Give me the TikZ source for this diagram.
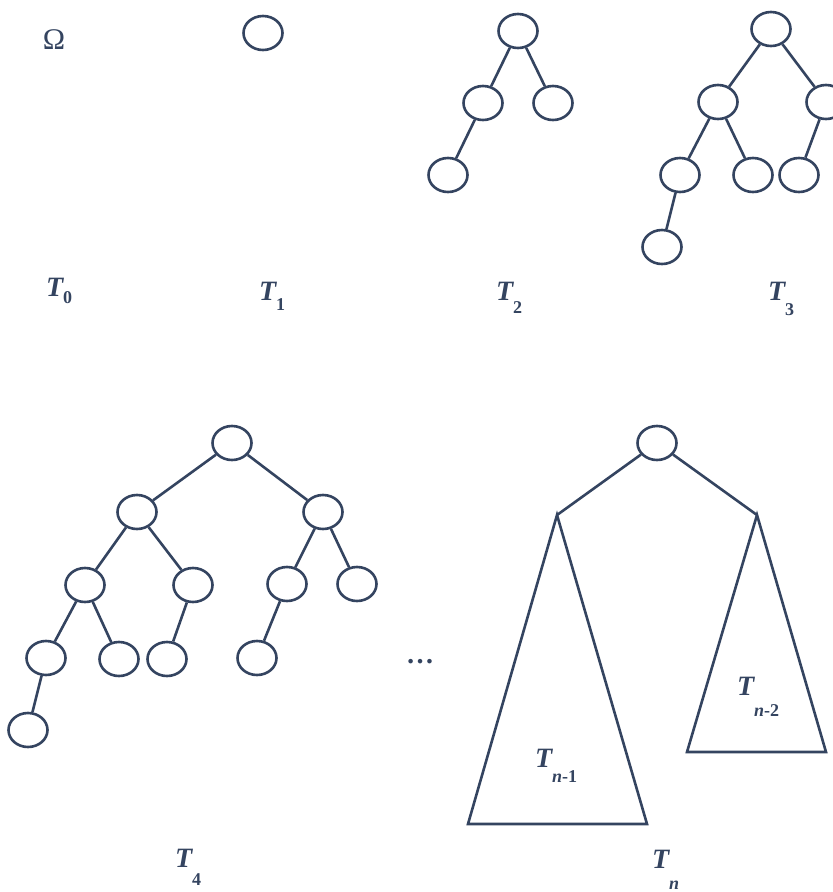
\documentclass[tikz,border=0pt]{standalone}
\usepackage{fontspec}
\setmainfont{Liberation Serif}
\usetikzlibrary{shapes.geometric}
\definecolor{ink}{RGB}{52,68,96}
\newcommand{\Tsb}[2]{\textbf{\textit{T}}\kern-1pt\raisebox{-#2pt}{\fontsize{18}{18}\selectfont\bfseries #1}}
\begin{document}
\begin{tikzpicture}[x=1pt,y=-1pt,
  nd/.style={ellipse,draw=ink,line width=2.6pt,minimum width=39pt,minimum height=34pt,inner sep=0pt},
  ed/.style={draw=ink,line width=2.6pt},
  lbl/.style={text=ink,font=\fontsize{28}{32}\selectfont,inner sep=0pt,anchor=base west}]
\clip (0,0) rectangle (833,892);
\fill[white] (0,0) rectangle (833,892);
% T0
\node[text=ink,font=\fontsize{30}{32}\selectfont,inner sep=0pt] (om) at (54,40) {Ω};
\node[lbl] (l0) at (46,296) {\Tsb{0}{7}};
% T1
\node[nd] (a) at (263,33) {};
\node[lbl] (l1) at (259,300) {\Tsb{1}{10}};
% T2
\node[nd] (b) at (518,31) {};
\node[nd] (bl) at (483,103) {};
\node[nd] (br) at (553,103) {};
\node[nd] (bll) at (448,175) {};
\draw[ed] (b) -- (bl) (b) -- (br) (bl) -- (bll);
\node[lbl] (l2) at (496,300) {\Tsb{2}{13}};
% T3
\node[nd] (c) at (771,29) {};
\node[nd] (cl) at (718,102) {};
\node[nd] (cr) at (826,102) {};
\node[nd] (cll) at (680,175) {};
\node[nd] (clr) at (753,175) {};
\node[nd] (crl) at (799,175) {};
\node[nd] (clll) at (662,247) {};
\draw[ed] (c) -- (cl) (c) -- (cr) (cl) -- (cll) (cl) -- (clr) (cr) -- (crl) (cll) -- (clll);
\node[lbl] (l3) at (768,300) {\Tsb{3}{15}};
% T4
\node[nd] (d) at (232,443) {};
\node[nd] (dl) at (137,512) {};
\node[nd] (dr) at (323,512) {};
\node[nd] (dll) at (85,585) {};
\node[nd] (dlr) at (193,585) {};
\node[nd] (drl) at (287,584) {};
\node[nd] (drr) at (357,584) {};
\node[nd] (dlll) at (46,658) {};
\node[nd] (dllr) at (119,659) {};
\node[nd] (dlrl) at (167,659) {};
\node[nd] (drll) at (257,658) {};
\node[nd] (dllll) at (28,730) {};
\draw[ed] (d) -- (dl) (d) -- (dr) (dl) -- (dll) (dl) -- (dlr) (dr) -- (drl) (dr) -- (drr)
  (dll) -- (dlll) (dll) -- (dllr) (dlr) -- (dlrl) (drl) -- (drll) (dlll) -- (dllll);
\node[lbl] (l4) at (175,867) {\Tsb{4}{18}};
% dots
\node[text=ink,font=\fontsize{28}{30}\selectfont\bfseries,inner sep=0pt] (dots) at (420,662) {\ldots};
% Tn
\node[nd] (e) at (657,443) {};
\coordinate (pa) at (557,515);
\coordinate (pb) at (468,824);
\coordinate (pc) at (647,824);
\coordinate (qa) at (757,515);
\coordinate (qb) at (687,752);
\coordinate (qc) at (826,752);
\draw[ed,line join=miter] (pa) -- (pb) -- (pc) -- cycle;
\draw[ed,line join=miter] (qa) -- (qb) -- (qc) -- cycle;
\draw[ed] (e) -- (pa) (e) -- (qa);
\node[lbl] (ln1) at (535,767) {\textbf{\textit{T}}\kern-1pt\raisebox{-15pt}{\fontsize{18}{18}\selectfont\bfseries\textit{n}-1}};
\node[lbl] (ln2) at (737,695) {\textbf{\textit{T}}\kern-1pt\raisebox{-21pt}{\fontsize{18}{18}\selectfont\bfseries\textit{n}-2}};
\node[lbl] (ln) at (652,868) {\Tsb{\textit{n}}{21}};
\end{tikzpicture}
\end{document}
